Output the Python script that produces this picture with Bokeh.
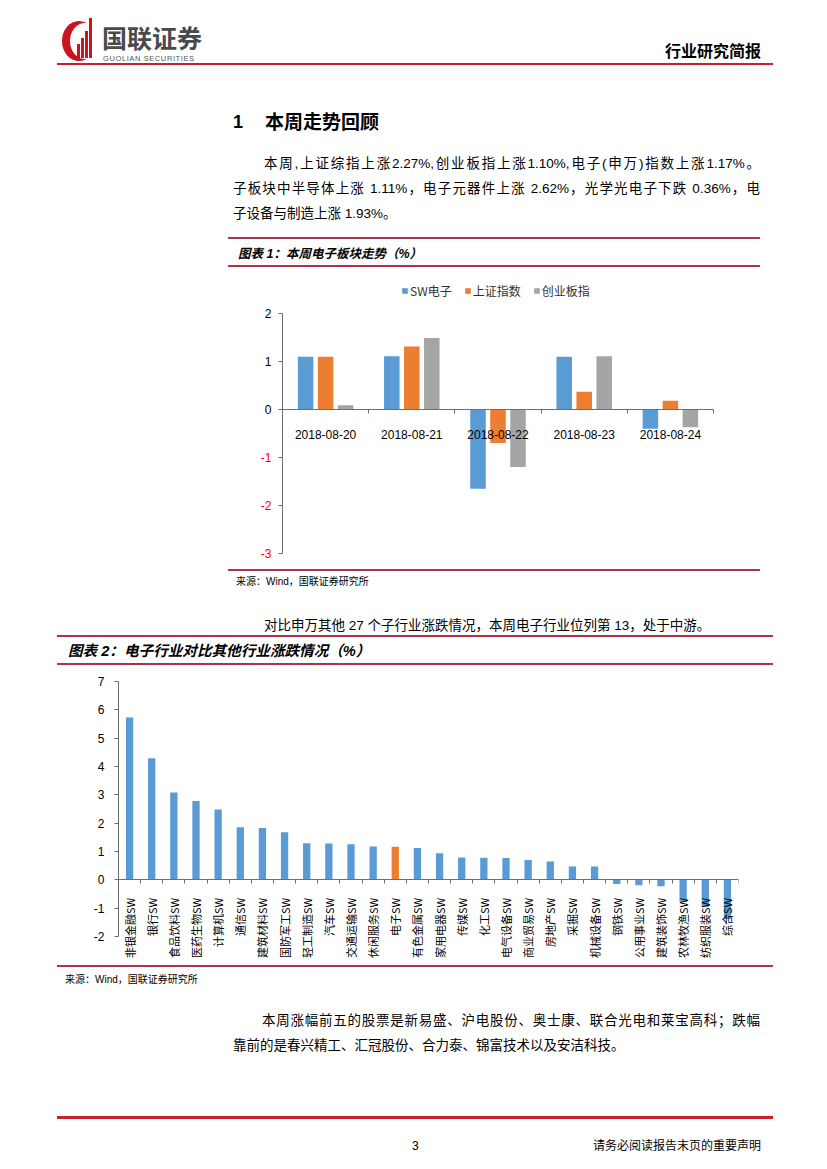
import math
import numpy as np
from bokeh.plotting import figure
from bokeh.models import (Div, FixedTicker, LinearAxis, Range1d,
                          Legend, LegendItem)
from bokeh.layouts import column
from bokeh.embed import file_html
from bokeh.resources import INLINE

# ---------------- data ----------------
dates = ["2018-08-20", "2018-08-21", "2018-08-22", "2018-08-23", "2018-08-24"]
sw_electronics = [1.10, 1.11, -1.65, 1.10, -0.40]
sse_composite = [1.10, 1.31, -0.70, 0.37, 0.18]
chinext = [0.09, 1.49, -1.20, 1.11, -0.37]
series_labels = ["SW电子", "上证指数", "创业板指"]
chart1_yticks = [-3, -2, -1, 0, 1, 2]

industries = ["非银金融SW", "银行SW", "食品饮料SW", "医药生物SW", "计算机SW",
              "通信SW", "建筑材料SW", "国防军工SW", "轻工制造SW", "汽车SW",
              "交通运输SW", "休闲服务SW", "电子SW", "有色金属SW", "家用电器SW",
              "传媒SW", "化工SW", "电气设备SW", "商业贸易SW", "房地产SW",
              "采掘SW", "机械设备SW", "钢铁SW", "公用事业SW", "建筑装饰SW",
              "农林牧渔SW", "纺织服装SW", "综合SW"]
industry_change = [5.73, 4.29, 3.08, 2.78, 2.48,
                   1.86, 1.83, 1.68, 1.29, 1.28,
                   1.26, 1.18, 1.17, 1.12, 0.94,
                   0.79, 0.78, 0.77, 0.70, 0.65,
                   0.47, 0.47, -0.15, -0.19, -0.23,
                   -0.78, -0.95, -1.38]
chart2_yticks = [-2, -1, 0, 1, 2, 3, 4, 5, 6, 7]
highlight_industry = "电子SW"

# ---------------- style ----------------
BLUE, ORANGE, GRAY = "#5B9BD5", "#ED7D31", "#A5A5A5"
AXIS = "#6E6E6E"
LINE = "#A8344E"
RED = "#C8202A"
LATIN = "Liberation Sans"
CJK = "Noto Sans CJK SC"
FONT_CSS = "'Liberation Sans','Noto Sans CJK SC',sans-serif"
W = 827
BODY = 13.5

# common frame (both plots share borders, as the column aligns frames)
FRAME_L, FRAME_R = 118, 738


def txt(x, yc, s, size, y0, bold=False, italic=False, color="#000",
        width=None, extra="", lh=1.2):
    top = yc - lh * size / 2 + 0.1 * size - y0
    st = (f"position:absolute;left:{x}px;top:{top:.1f}px;font-size:{size}px;"
          f"line-height:{lh*size:.1f}px;font-family:{FONT_CSS};color:{color};"
          f"font-weight:{'bold' if bold else 'normal'};"
          f"font-style:{'italic' if italic else 'normal'};")
    if width:
        st += (f"width:{width}px;white-space:normal;text-align:justify;"
               f"text-align-last:justify;")
    else:
        st += "white-space:nowrap;"
    return f'<div style="{st}{extra}">{s}</div>'


def hline(x, y, w, th, color, y0):
    return (f'<div style="position:absolute;left:{x}px;top:{y-y0-th/2:.1f}px;'
            f'width:{w}px;height:{th}px;background:{color};"></div>')


def box(x, y, w, h, color, y0, radius="0"):
    return (f'<div style="position:absolute;left:{x}px;top:{y-y0}px;width:{w}px;'
            f'height:{h}px;background:{color};border-radius:{radius};"></div>')


def page_div(y0, y1, items):
    h = y1 - y0
    html = (f'<div style="position:relative;width:{W}px;height:{h}px;'
            f'overflow:hidden;background:#fff;">' + "".join(items) + "</div>")
    return Div(text=html, width=W, height=h, margin=0)


# ---------------- top part ----------------
Y0 = 0
top_items = [
    # logo
    box(62, 21, 34, 40, "#C9151E", Y0, "50%"),
    box(70, 23, 30, 36, "#fff", Y0, "50%"),
    box(77, 44, 3, 14, "#C9151E", Y0),
    box(81, 38, 3, 20, "#C9151E", Y0),
    box(85, 31, 3, 27, "#C9151E", Y0),
    box(89, 18, 3, 40, "#C9151E", Y0),
    txt(102, 37, "国联证券", 25, Y0, bold=True, color="#4a4a4a", lh=1.0),
    txt(103, 57.5, "GUOLIAN SECURITIES", 7.5, Y0, color="#555",
        extra="letter-spacing:0.6px;", lh=1.0),
    txt(665, 50, "行业研究简报", 16, Y0, bold=True),
    hline(57, 64, 716, 2, RED, Y0),
    txt(233, 121, "1", 18, Y0, bold=True),
    txt(265, 121, "本周走势回顾", 19, Y0, bold=True),
    txt(264, 163, "本周,上证综指上涨2.27%,创业板指上涨1.10%,电子(申万)指数上涨1.17%。",
        BODY, Y0, width=496),
    txt(233, 188, "子板块中半导体上涨 1.11%，电子元器件上涨 2.62%，光学光电子下跌 0.36%，电",
        BODY, Y0, width=527),
    txt(233, 213, "子设备与制造上涨 1.93%。", BODY, Y0),
    hline(228, 238, 532, 1.3, LINE, Y0),
    txt(238, 253, "图表 1：本周电子板块走势（%）", 12.5, Y0, bold=True, italic=True),
    hline(228, 266, 532, 1.3, LINE, Y0),
]
div_top = page_div(Y0, 270, top_items)

# ---------------- chart 1 ----------------
# category area: x 282..713, y=2 at 313, y=-3 at 553
F1_TOP, F1_BOT = 273, 564
cw = (713 - 282) / len(dates)
upp = (553 - 313) / 5.0
x1_start = -(282 - FRAME_L) / cw
x1_end = len(dates) + (FRAME_R - 713) / cw
y1_end = max(chart1_yticks) + (313 - F1_TOP) / upp
y1_start = min(chart1_yticks) - (F1_BOT - 553) / upp

p1 = figure(width=W, height=299, x_range=Range1d(x1_start, x1_end),
            y_range=Range1d(y1_start, y1_end),
            output_backend="svg", toolbar_location=None,
            x_axis_location=None, y_axis_location=None,
            min_border_left=FRAME_L, min_border_right=W - FRAME_R,
            min_border_top=F1_TOP - 270, min_border_bottom=569 - F1_BOT)
p1.outline_line_color = None
p1.xgrid.visible = False
p1.ygrid.visible = False

idx = np.arange(len(dates))
renderers = []
for k, (vals, col) in enumerate(zip([sw_electronics, sse_composite, chinext],
                                    [BLUE, ORANGE, GRAY])):
    r = p1.vbar(x=idx + 0.5 + (k - 1) * 0.232, top=vals, bottom=0, width=0.18,
                fill_color=col, line_color=None)
    renderers.append(r)

legend = Legend(items=[LegendItem(label=n, renderers=[r])
                       for n, r in zip(series_labels, renderers)],
                orientation="horizontal",
                location=(401 - FRAME_L, F1_BOT - 300),
                border_line_color=None, background_fill_alpha=0,
                glyph_width=7, glyph_height=7, label_standoff=2, spacing=12,
                padding=0, margin=0, label_height=20,
                label_text_font_size="12px",
                label_text_font=CJK, label_text_color="#333")
p1.add_layout(legend, "center")

bounds_y1 = (min(chart1_yticks), max(chart1_yticks))
ya_black = LinearAxis(fixed_location=0, bounds=bounds_y1,
                      ticker=FixedTicker(ticks=chart1_yticks),
                      major_label_overrides={t: "" for t in chart1_yticks if t < 0},
                      major_tick_in=0, major_tick_out=4,
                      minor_tick_line_color=None, axis_line_color=AXIS,
                      major_tick_line_color=AXIS, major_label_standoff=7,
                      major_label_text_font=LATIN, major_label_text_font_size="12px",
                      major_label_text_color="#000")
neg_ticks = [t for t in chart1_yticks if t < 0]
ya_red = LinearAxis(fixed_location=0, bounds=bounds_y1,
                    ticker=FixedTicker(ticks=neg_ticks),
                    major_label_overrides={t: f"-{abs(t)}" for t in neg_ticks},
                    major_tick_in=0, major_tick_out=4,
                    minor_tick_line_color=None, axis_line_color=None,
                    major_tick_line_color=None, major_label_standoff=7,
                    major_label_text_font=LATIN, major_label_text_font_size="12px",
                    major_label_text_color="#FF0000")
p1.add_layout(ya_black, "left")
p1.add_layout(ya_red, "left")

xa_lab = LinearAxis(fixed_location=0, bounds=(0, len(dates)),
                    ticker=FixedTicker(ticks=list(idx + 0.5)),
                    major_label_overrides={float(i + 0.5): d for i, d in enumerate(dates)},
                    axis_line_color=None, major_tick_line_color=None,
                    minor_tick_line_color=None, major_label_standoff=14,
                    major_label_text_font=LATIN, major_label_text_font_size="12px",
                    major_label_text_color="#000")
xa_tick = LinearAxis(fixed_location=0, bounds=(0, len(dates)),
                     ticker=FixedTicker(ticks=list(range(len(dates) + 1))),
                     major_label_overrides={i: "" for i in range(len(dates) + 1)},
                     axis_line_color=AXIS, major_tick_line_color=AXIS,
                     major_tick_in=0, major_tick_out=4,
                     minor_tick_line_color=None)
p1.add_layout(xa_tick, "below")
p1.add_layout(xa_lab, "below")

# ---------------- middle part ----------------
Y1 = 569
mid_items = [
    hline(228, 570, 532, 1.3, LINE, Y1),
    txt(236, 581, "来源：Wind，国联证券研究所", 10, Y1),
    txt(264, 625, "对比申万其他 27 个子行业涨跌情况，本周电子行业位列第 13，处于中游。", BODY, Y1),
    hline(57, 636, 716, 1.3, LINE, Y1),
    txt(68, 650, "图表 2：电子行业对比其他行业涨跌情况（%）", 14.6, Y1, bold=True, italic=True),
    hline(57, 664, 716, 1.3, LINE, Y1),
]
div_mid = page_div(Y1, 666, mid_items)

# ---------------- chart 2 ----------------
n2 = len(industries)
F2_TOP, F2_BOT = 681, 962
upp2 = (936 - 681) / 9.0
y2_start = min(chart2_yticks) - (F2_BOT - 936) / upp2
p2 = figure(width=W, height=299, x_range=Range1d(0, n2),
            y_range=Range1d(y2_start, max(chart2_yticks)),
            output_backend="svg", toolbar_location=None,
            x_axis_location=None, y_axis_location="left",
            min_border_left=FRAME_L, min_border_right=W - FRAME_R,
            min_border_top=F2_TOP - 666, min_border_bottom=965 - F2_BOT)
p2.outline_line_color = None
p2.xgrid.visible = False
p2.ygrid.visible = False

idx2 = np.arange(n2)
colors2 = [ORANGE if c == highlight_industry else BLUE for c in industries]
p2.vbar(x=idx2 + 0.5, top=industry_change, bottom=0, width=0.33,
        fill_color=colors2, line_color=None)

yb = p2.yaxis[0]
yb.bounds = (min(chart2_yticks), max(chart2_yticks))
yb.ticker = FixedTicker(ticks=chart2_yticks)
yb.major_label_overrides = {t: (f"-{abs(t)}" if t < 0 else str(t)) for t in chart2_yticks}
yb.major_tick_in = 0
yb.major_tick_out = 4
yb.minor_tick_line_color = None
yb.axis_line_color = AXIS
yb.major_tick_line_color = AXIS
yb.major_label_standoff = 10
yb.major_label_text_font = LATIN
yb.major_label_text_font_size = "12px"
yb.major_label_text_color = "#000"

xb_lab = LinearAxis(fixed_location=0,
                    ticker=FixedTicker(ticks=list(idx2 + 0.5)),
                    major_label_overrides={float(i + 0.5): c for i, c in enumerate(industries)},
                    major_label_orientation=math.pi / 2,
                    axis_line_color=None, major_tick_line_color=None,
                    minor_tick_line_color=None, major_label_standoff=12,
                    major_label_text_font=CJK, major_label_text_font_size="11px",
                    major_label_text_color="#000")
xb_tick = LinearAxis(fixed_location=0,
                     ticker=FixedTicker(ticks=list(range(n2 + 1))),
                     major_label_overrides={i: "" for i in range(n2 + 1)},
                     axis_line_color=AXIS, major_tick_line_color=AXIS,
                     major_tick_in=0, major_tick_out=4,
                     minor_tick_line_color=None)
p2.add_layout(xb_tick, "below")
p2.add_layout(xb_lab, "below")

# ---------------- bottom part ----------------
Y2 = 965
bot_items = [
    hline(57, 966, 716, 1.3, LINE, Y2),
    txt(65, 979, "来源：Wind，国联证券研究所", 10, Y2),
    txt(262, 1020, "本周涨幅前五的股票是新易盛、沪电股份、奥士康、联合光电和莱宝高科；跌幅",
        BODY, Y2, width=498),
    txt(233, 1045, "靠前的是春兴精工、汇冠股份、合力泰、锦富技术以及安洁科技。", BODY, Y2),
    hline(57, 1117, 716, 3, RED, Y2),
    txt(412, 1145, "3", 12, Y2),
    txt(593, 1145, "请务必阅读报告末页的重要声明", 12, Y2),
]
div_bot = page_div(Y2, 1168, bot_items)

page = column(div_top, p1, div_mid, p2, div_bot, spacing=0)

open("out.html", "w").write(file_html(page, INLINE))
